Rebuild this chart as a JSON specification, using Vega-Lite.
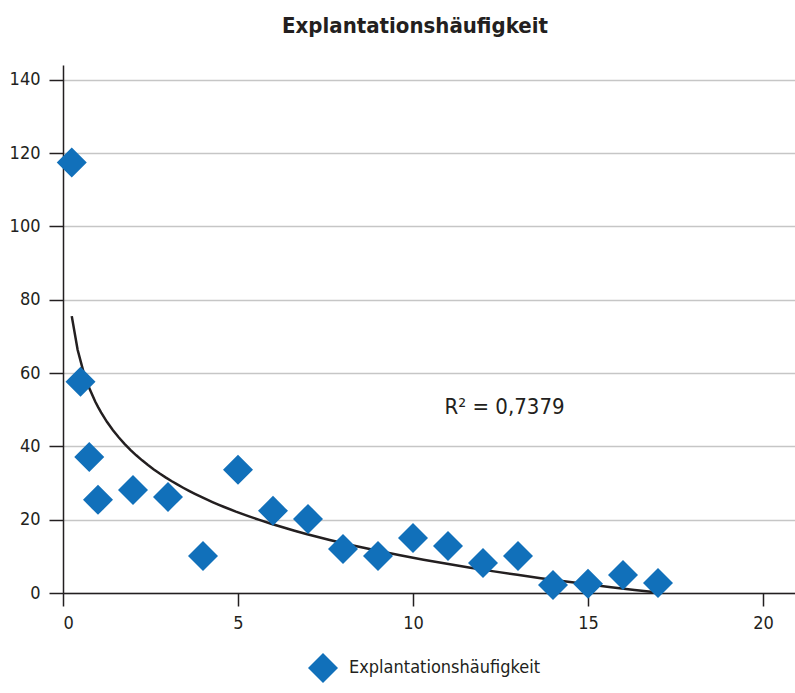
{
  "$schema": "https://vega.github.io/schema/vega-lite/v6.json",
  "autosize": {"type": "none"},
  "width": 732,
  "height": 528,
  "padding": {"left": 63, "top": 65, "right": 0, "bottom": 100},
  "background": "white",
  "title": {
    "text": "Explantationshäufigkeit",
    "font": "DejaVu Sans Condensed, sans-serif",
    "fontSize": 22,
    "fontWeight": "bold",
    "color": "#231f20",
    "anchor": "middle",
    "frame": "group",
    "dx": -14,
    "offset": 27
  },
  "config": {
    "view": {"stroke": null},
    "font": "DejaVu Sans Condensed, sans-serif",
    "axis": {
      "labelFont": "DejaVu Sans Condensed, sans-serif",
      "labelFontSize": 18,
      "labelColor": "#231f20",
      "domainColor": "#231f20",
      "domainWidth": 1.5,
      "tickColor": "#231f20",
      "tickWidth": 1.5,
      "title": null
    }
  },
  "datasets": {
    "points": [
      {"x": 0.25, "y": 117.4},
      {"x": 0.5, "y": 57.6},
      {"x": 0.75, "y": 37.1},
      {"x": 1, "y": 25.4},
      {"x": 2, "y": 28.1},
      {"x": 3, "y": 26.2},
      {"x": 4, "y": 10.1},
      {"x": 5, "y": 33.6},
      {"x": 6, "y": 22.4},
      {"x": 7, "y": 20.2},
      {"x": 8, "y": 12.0},
      {"x": 9, "y": 10.1},
      {"x": 10, "y": 15.0},
      {"x": 11, "y": 12.8},
      {"x": 12, "y": 8.2},
      {"x": 13, "y": 10.1},
      {"x": 14, "y": 2.2},
      {"x": 15, "y": 2.5},
      {"x": 16, "y": 4.9},
      {"x": 17, "y": 2.7}
    ],
    "label": [
      {"x": 10.9, "y": 50.8, "text": "R² = 0,7379"}
    ]
  },
  "layer": [
    {
      "data": {"name": "points"},
      "mark": {"type": "line", "color": "#231f20", "strokeWidth": 2.5},
      "transform": [{"regression": "y", "on": "x", "method": "log"}],
      "encoding": {
        "x": {
          "field": "x", "type": "quantitative",
          "scale": {"domain": [0, 20.914], "nice": false, "zero": false},
          "axis": {"values": [0, 5, 10, 15, 20], "grid": false, "tickSize": 13, "labelPadding": 8}
        },
        "y": {
          "field": "y", "type": "quantitative",
          "scale": {"domain": [0, 144], "nice": false},
          "axis": {"values": [0, 20, 40, 60, 80, 100, 120, 140], "grid": true, "gridColor": "#c6c6c6", "gridWidth": 1.5, "tickSize": 14, "labelPadding": 9}
        }
      }
    },
    {
      "data": {"name": "points"},
      "mark": {"type": "point", "shape": "diamond", "filled": true, "opacity": 1, "size": 900},
      "encoding": {
        "x": {"field": "x", "type": "quantitative"},
        "y": {"field": "y", "type": "quantitative"},
        "color": {
          "datum": "Explantationshäufigkeit",
          "scale": {"range": ["#1170ba"]},
          "legend": {
            "title": null,
            "orient": "none",
            "legendX": 244,
            "legendY": 587,
            "symbolType": "diamond",
            "symbolSize": 900,
            "symbolOpacity": 1,
            "labelFontSize": 18,
            "labelLimit": 600,
            "labelColor": "#231f20",
            "labelFont": "DejaVu Sans Condensed, sans-serif",
            "labelOffset": 10
          }
        }
      }
    },
    {
      "data": {"name": "label"},
      "mark": {"type": "text", "align": "left", "baseline": "middle", "fontSize": 22, "color": "#231f20"},
      "encoding": {
        "x": {"field": "x", "type": "quantitative"},
        "y": {"field": "y", "type": "quantitative"},
        "text": {"field": "text"}
      }
    }
  ]
}
